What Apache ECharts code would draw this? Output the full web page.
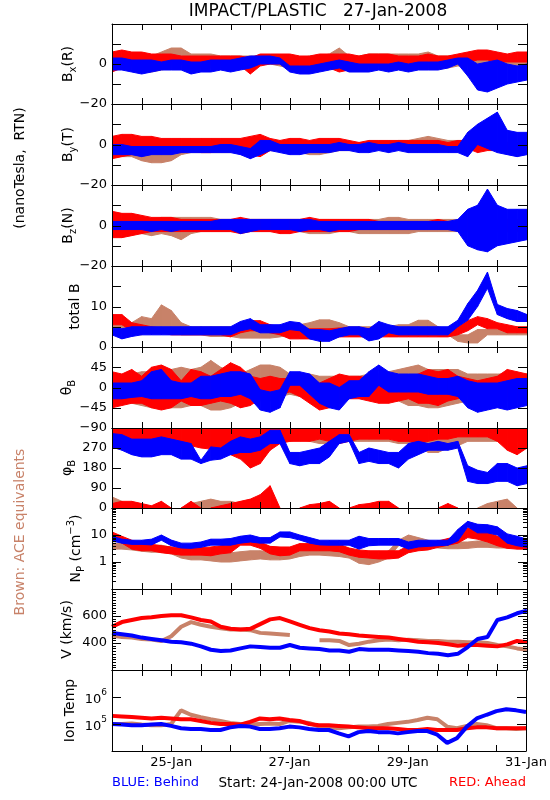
<!DOCTYPE html>
<html><head><meta charset="utf-8">
<script src="https://cdn.jsdelivr.net/npm/echarts@6/dist/echarts.min.js"></script>
<style>html,body{margin:0;padding:0;background:#fff}#c{width:550px;height:800px}</style>
</head><body><div id="c"></div>
<script>
// ---------- DATA (hours since 24-Jan-2008 00:00 UTC, 4 h bins) ----------
const hours = [0,4,8,12,16,20,24,28,32,36,40,44,48,52,56,60,64,68,72,76,80,84,88,92,96,100,104,108,112,116,120,124,128,132,136,140,144,148,152,156,160,164,168];
const xTickHours = [24,72,120,168];
const xTickLabels = ['25-Jan','27-Jan','29-Jan','31-Jan'];
const xTickAll = [12,24,36,48,60,72,84,96,108,120,132,144,156];

// Bx (R)  [nT]  low / high envelope of each trace
const redBxLo = [-4,-2,-1,0,-1,0, 0,0,-2,-1,0,0, -1,-1,-5,-1,0,0, -3,-3,-2,-1,-2,-4, -3,-2,-1,0,0,0, 0,0,1,0,0,1, 1,2,2,1,1,1,1];
const redBxHi = [6,7,6,6,5,5, 5,4,4,4,4,4, 4,4,3,5,5,5, 5,4,4,5,5,5, 5,4,5,5,5,4, 4,4,5,4,4,5, 6,7,7,6,5,6,6];
const blueBxLo = [-3,-3,-4,-5,-4,-3, -3,-3,-5,-4,-4,-3, -4,-3,-2,0,0,0, -4,-5,-5,-4,-3,-2, -4,-4,-4,-3,-4,-3, -4,-3,-3,-3,-2,0, -6,-13,-14,-12,-10,-9,-8];
const blueBxHi = [3,3,2,2,2,1, 2,2,1,1,2,2, 2,3,4,4,4,3, -1,-1,-1,0,1,2, 1,0,0,0,0,1, 0,1,1,1,2,3, 3,0,1,2,0,-1,0];
const brownBxLo = [-3,-2,-3,-4,-4,-3, -2,-2,-3,-2,-2,-2, -2,-2,-1,0,0,-1, -2,-2,-3,-2,-2,-2, -2,-2,-2,-1,-1,-1, -2,-2,-2,-2,-2,-1, -1,0,0,-1,-1,-1,-1];
const brownBxHi = [5,4,3,4,4,6, 8,8,5,5,5,4, 4,4,4,4,4,3, 3,3,4,4,5,8, 4,4,5,5,5,5, 5,5,6,4,4,4, 3,3,3,4,3,3,3];

// By (T)
const redByLo = [-7,-6,-5,-5,-4,-4, -4,-4,-3,-4,-4,-3, -3,-3,-5,-6,-3,-3, -3,-4,-3,-3,-3,-3, -2,-3,-2,-2,-2,-2, -1,-2,-2,-3,-3,-3, -2,-4,-3,-3,-4,-4,-3];
const redByHi = [4,5,5,4,4,3, 3,3,3,3,3,3, 3,3,4,5,3,2, 3,3,2,3,3,3, 2,1,2,2,2,2, 2,2,2,2,1,2, 2,2,1,1,1,1,1];
const blueByLo = [-5,-5,-5,-6,-5,-5, -5,-4,-4,-4,-4,-4, -4,-5,-7,-5,-3,-4, -5,-5,-4,-4,-4,-3, -3,-4,-4,-3,-4,-3, -4,-4,-4,-4,-4,-4, -6,0,-2,-4,-5,-6,-5];
const blueByHi = [0,0,-1,-1,-1,-1, -1,-1,-1,-1,-1,0, 0,-1,-2,2,2,0, 0,0,0,0,0,1, 0,0,1,0,0,1, 0,0,0,0,-1,-1, 6,10,13,16,7,6,6];
const brownByLo = [-5,-6,-6,-8,-9,-9, -8,-5,-4,-4,-4,-4, -4,-3,-3,-3,-3,-3, -3,-4,-5,-5,-4,-3, -3,-3,-3,-2,-2,-2, -3,-3,-3,-3,-3,-3, -2,-2,-2,-2,-2,-2,-2];
const brownByHi = [4,3,2,1,1,1, 1,2,2,2,2,2, 2,2,1,1,2,1, 1,1,1,1,1,2, 1,1,1,1,1,2, 2,3,4,3,2,2, 1,1,1,1,1,1,1];

// Bz (N)
const redBzLo = [-6,-6,-5,-4,-3,-3, -3,-3,-3,-3,-3,-3, -3,-4,-3,-3,-3,-4, -4,-3,-3,-3,-3,-3, -3,-2,-2,-2,-2,-2, -2,-2,-2,-2,-2,-2, -3,-3,-3,-3,-3,-3,-3];
const redBzHi = [7,6,6,5,4,4, 4,3,3,3,3,3, 3,4,3,3,3,3, 3,3,4,3,3,3, 3,3,3,2,2,2, 2,2,2,3,2,2, 3,3,3,3,3,3,3];
const blueBzLo = [-2,-2,-2,-2,-3,-2, -3,-2,-2,-2,-2,-2, -2,-4,-3,-2,-2,-2, -2,-3,-2,-2,-3,-2, -2,-2,-2,-2,-2,-2, -2,-2,-2,-2,-2,-3, -10,-12,-13,-10,-9,-8,-7];
const blueBzHi = [2,2,2,2,2,2, 2,2,2,2,2,3, 3,3,3,3,3,3, 3,3,3,2,2,2, 2,2,2,2,2,2, 2,2,2,2,2,3, 8,10,18,10,8,8,8];
const brownBzLo = [-4,-4,-4,-4,-5,-4, -5,-7,-4,-3,-3,-3, -3,-3,-3,-3,-3,-3, -3,-3,-4,-4,-4,-3, -3,-4,-4,-4,-4,-4, -4,-3,-3,-3,-3,-3, -2,-2,-2,-2,-2,-2,-2];
const brownBzHi = [3,3,3,3,3,4, 4,4,4,4,4,3, 3,3,3,3,3,3, 3,3,3,3,3,3, 3,3,3,3,4,4, 3,3,3,3,3,3, 2,2,2,2,2,2,2];

// total B
const redBLo = [5.5,5.5,4,4,4,3.5, 3,3,3,3,3,3, 2.5,3.5,4,4,3.5,3, 2,2,2,2,2,2.5, 2.5,2.5,2.5,2.5,2.5,2.5, 2.5,2.5,2.5,2.5,2.5,3, 4,5.5,4.5,4.5,3.5,3.5,3.5];
const redBHi = [8,8,6,5.5,5,4.7, 4.7,4.7,4.5,4.5,4.5,4.5, 4,6,6.5,6.5,5.5,5, 4.3,4.3,4.5,4.5,4.5,4.7, 4.7,4.5,4.5,4.3,4.3,4.5, 4.5,4.5,4.5,4.5,4.3,5, 6.5,7.5,7,6,5.5,5,5];
const blueBLo = [3,2,2.6,3,3,3, 3,3,3,3,3,3, 3,4,4.5,3.5,3.5,3.5, 4.3,4,2,1.4,1.4,2.5, 3,3,1.5,2,3.5,3, 3,3,3,3,3,5, 6.6,10,14.5,8,7,6.3,6.3];
const blueBHi = [4.7,4.5,5,5,5,5, 5,5,5,5,5,5, 5,6.3,7,5.5,5.5,5.5, 6.3,6,4.3,4.3,4,4.5, 5,5,4.5,6.3,5.5,5, 5,5,5,5,5,6.6, 10.7,14,18.5,10.5,9.5,9,8];
const brownBLo = [3.4,3.4,3.4,3,5,5, 5,3,3,3,2.6,2.6, 2.6,2.2,2.2,2.2,2.2,2.5, 3,3,3.5,4.3,4.3,3.5, 3,3,3,3,3,3, 3,4,5,3,3,1.4, 1,1,3,3,3,3,3];
const brownBHi = [6,6,6,7.5,7,10.4, 9,6,5,5,5,5, 5,4.7,4.7,4.7,4.7,5, 5,5.5,6,6.7,6.7,6, 5,5,5,5,5,5.5, 5.5,6.6,6.6,5,4.5,3, 3,4.3,4.3,4.3,4.3,4.3,4.3];

// theta_B [deg]
const redThLo = [-45,-40,-35,-35,-45,-50, -45,-30,-40,-40,-35,-30, -35,-45,-40,-25,-20,-15, -10,-20,-35,-50,-45,-35, -25,-25,-30,-35,-35,-30, -25,-35,-35,-40,-30,-25, -20,-25,-25,-25,-20,-30,-35];
const redThHi = [35,30,40,25,45,50, 40,15,40,35,25,40, 55,45,25,20,25,20, 20,30,15,10,20,30, 25,25,20,15,30,25, 20,30,40,35,40,25, 20,15,20,25,40,35,30];
const blueThLo = [-25,-25,-22,-20,-25,-25, -25,-25,-20,-25,-25,-20, -20,-15,-25,-50,-55,-45, 5,5,-15,-35,-45,-50, -25,-20,-20,5,-10,-10, -10,-10,-15,-15,-15,-20, -45,-55,-50,-45,-50,-45,-40];
const blueThHi = [10,10,10,15,35,40, 15,10,10,25,25,30, 35,35,30,-5,-10,-5, 35,35,30,10,10,0, 15,15,35,50,35,30, 30,30,25,20,20,25, 15,10,10,10,15,20,20];
const brownThLo = [-30,-30,-35,-40,-45,-45, -45,-45,-40,-40,-50,-50, -45,-35,-35,-30,-30,-20, -15,-20,-20,-20,-20,-20, -20,-20,-25,-30,-30,-30, -40,-40,-45,-45,-40,-35, -30,-30,-30,-30,-30,-30,-30];
const brownThHi = [20,25,30,35,35,40, 40,45,40,45,60,45, 35,30,40,50,50,45, 30,30,30,25,25,25, 25,25,30,30,35,40, 45,50,40,40,40,40, 30,30,30,30,30,30,30];

// phi_B [deg]
const redPhiLo = [270,265,260,270,280,270, 260,270,280,270,265,260, 240,220,180,200,260,290, 300,300,300,310,300,290, 300,310,310,310,310,300, 300,290,300,310,310,320, 320,320,320,300,260,240,270];
const redPhiHi = [360,360,360,360,360,360, 360,360,360,360,360,360, 360,360,360,360,360,360, 360,360,360,360,360,360, 360,360,360,360,360,360, 360,360,360,360,360,360, 360,360,360,360,360,360,360];
const redPhiNearZero = [20,30,30,20,10,30, 0,0,30,0,0,10, 20,30,40,60,100,0, 0,0,15,20,30,0, 0,15,20,30,30,0, 0,0,0,0,20,0, 0,0,0,0,0,0,0];
const bluePhiLo = [275,260,240,230,230,240, 240,220,220,200,215,220, 240,250,250,260,290,290, 200,190,200,200,230,290, 300,200,210,200,200,180, 220,240,260,260,260,270, 120,110,110,120,120,100,110];
const bluePhiHi = [335,330,310,310,310,320, 310,300,290,215,275,270, 300,320,310,320,350,350, 250,250,260,270,300,330, 330,250,270,260,250,250, 290,300,290,300,290,300, 190,170,160,200,200,180,190];
const brownPhiLo = [290,280,260,260,260,270, 280,290,300,300,300,300, 300,300,300,300,300,300, 300,310,300,290,290,300, 300,300,300,300,300,290, 290,280,250,250,270,280, 300,300,300,300,300,300,300];
const brownPhiHi = [360,360,360,360,360,360, 360,360,360,360,360,360, 360,360,360,360,360,360, 360,360,360,360,360,360, 360,360,360,360,360,360, 360,360,360,360,360,360, 360,360,360,360,360,360,360];
const brownPhiNearZero = [50,30,0,0,0,0, 0,0,20,30,40,30, 30,20,0,0,0,0, 0,0,0,0,0,0, 0,0,0,0,0,0, 0,0,0,0,0,0, 0,0,20,30,40,0,0];

// N_P [cm^-3]
const redNpLo = [8,5,3,2.6,2.6,2.2, 2,1.8,1.8,1.8,1.7,2, 2.2,4.2,4.2,3.2,2,1.7, 1.8,2.6,2.6,2.6,2.6,2.4, 1.8,1.5,1.4,1.3,1.3,1.4, 2.2,2.6,2.8,3.5,4.2,5, 8,7,5.5,4,3.2,3,3];
const redNpHi = [13,9,6.4,5,4.5,4, 3.6,3.4,3.4,3.4,3.6,4, 4.4,7.4,7.4,5.5,3.8,3.6, 3.6,4.8,4.8,4.8,4.8,4.5, 3.3,2.8,2.6,2.6,2.6,2.6, 4,4.6,5,6,7.4,9, 18,15,13,9,6.4,5.5,5.5];
const blueNpLo = [6,5,4.5,4.5,4.3,6.4, 4,3.3,3.2,3.5,4.2,4.2, 4.2,5,5.5,5,5,8.5, 8,6.5,5,4.3,4.2,4.2, 4.2,3,4,4.2,4.2,4.2, 3,3.6,3.8,4,4.2,6, 20,12,12,10,5,4,3.5];
const blueNpHi = [9,7,6.4,6.4,7,10, 6.5,5,5,5.5,7,7, 7.4,9,10,8,8,13, 13,10,8,6.4,6.4,6.4, 6.4,9,7.4,7.4,7.4,7.4, 5.5,6.4,6.4,6.4,6.4,16, 32,25,24,20,11,9,7];
const brownNpLo = [3,3,2.8,2.5,2.3,2.3, 2,1.4,1.2,1.2,1.1,1, 1,1.1,1.2,1.3,1.2,1.2, 1.3,1.6,1.8,1.8,1.7,1.6, 1.4,0.9,0.8,1,1.4,4, 5.5,4.5,3.6,3.3,3.1,3.1, 3.2,3.5,3.5,3.3,3.3,3.1,3];
const brownNpHi = [5,4.8,4.5,4.2,4.2,4.2, 3.5,2.6,2.3,2.3,2.3,2.2, 2.2,2.4,2.6,2.6,2.4,2.2, 2.4,3,3.4,3.1,3.1,2.8, 2.8,1.8,1.6,1.9,2.6,6.4, 10,8,6.4,5.5,5.5,5.5, 5.5,6,6,5.5,5.2,5,4.8];

// V [km/s]
const redV = [520,555,570,585,590,600, 605,605,590,570,560,520, 505,500,505,540,575,585, 560,535,510,495,485,470, 465,455,450,445,440,430, 420,410,405,400,390,380, 385,385,380,375,390,415,405];
const blueV = [475,465,455,440,430,420, 410,405,395,375,350,340, 345,360,375,370,365,365, 385,365,360,355,345,345, 335,355,350,350,350,345, 340,335,325,320,310,320, 370,430,445,570,590,620,640];
const brownV = [455,445,440,430,425,415, 450,520,555,535,520,510, 500,500,495,475,470,465, 460,null,null,420,420,415, 385,395,410,420,425,420, 425,420,415,415,410,410, 405,405,400,385,375,360,350];

// Ion Temp [K]
const redT = [2.0e5,1.9e5,1.8e5,1.7e5,1.6e5,1.7e5, 1.6e5,1.5e5,1.5e5,1.3e5,1.1e5,1.0e5, 1.0e5,0.95e5,1.2e5,1.6e5,1.5e5,1.6e5, 1.4e5,1.3e5,1.0e5,0.9e5,0.9e5,0.85e5, 0.8e5,0.75e5,0.7e5,0.7e5,0.7e5,0.65e5, 0.6e5,0.6e5,0.65e5,0.6e5,0.6e5,0.6e5, 0.7e5,0.75e5,0.75e5,0.7e5,0.7e5,0.7e5,0.7e5];
const blueT = [1.0e5,0.95e5,0.9e5,0.9e5,0.95e5,1.0e5, 0.85e5,0.7e5,0.65e5,0.65e5,0.6e5,0.6e5, 0.75e5,0.85e5,0.8e5,0.65e5,0.65e5,0.7e5, 0.8e5,0.75e5,0.65e5,0.6e5,0.6e5,0.45e5, 0.35e5,0.5e5,0.55e5,0.5e5,0.5e5,0.45e5, 0.5e5,0.55e5,0.55e5,0.4e5,0.2e5,0.3e5, 0.8e5,1.6e5,2.2e5,3.0e5,3.5e5,3.2e5,2.8e5];
const brownT = [1.0e5,1.0e5,1.05e5,0.95e5,0.9e5,0.9e5, 1.0e5,3.2e5,2.2e5,1.8e5,1.5e5,1.3e5, 1.1e5,1.0e5,0.95e5,1.0e5,1.05e5,1.0e5, 1.3e5,1.2e5,1.1e5,0.8e5,0.75e5,0.7e5, 0.75e5,0.8e5,0.8e5,0.85e5,1.0e5,1.1e5, 1.2e5,1.4e5,1.7e5,1.5e5,0.8e5,0.7e5, 0.85e5,1.0e5,0.9e5,0.7e5,0.7e5,0.65e5,0.7e5];

// y tick positions (major / minor) per panel
const bTicks = [-10,0,10];
const totBTicks = [5,10,15];
const thetaTicks = [-45,0,45];
const phiTicks = [90,180,270];
const npTicks = [1,10];
const npMinorTicks = [0.2,0.3,0.4,0.5,0.6,0.7,0.8,0.9, 2,3,4,5,6,7,8,9, 20,30,40,50,60,70,80,90];
const vTicks = [400,600];
const vMinorTicks = [220,240,260,280,300,320,340,360,380,420,440,460,480,500,520,540,560,580,620,640,660,680,700,720,740,760,780];
const tTicks = [1e5,1e6];

// ---------- STYLE / LAYOUT ----------
const RED = '#FF0000', BLUE = '#0000FF', BROWN = '#C88269';
const FONT = 'DejaVu Sans';
const panelTops = [24,104,185,266,347,428,508,589,670];
const plotBottom = 751;
const L = 112, R = 23;

const near = (a, b) => Math.abs(a - b) < 1e-6 * Math.max(1, Math.abs(b));
const minus = v => (v < 0 ? '\u2212' + Math.abs(v) : String(v));
const pick = list => v => (list.some(x => near(v, x)) ? minus(v) : '');

const panels = [
  {y:{type:'value', min:-20, max:20, interval:10, formatter: pick([-20,0])}, ticks:bTicks,
   title:'{m|B}{s|x}{m|(R)}', tx:68,
   bands:[[brownBxLo,brownBxHi,BROWN],[redBxLo,redBxHi,RED],[blueBxLo,blueBxHi,BLUE]]},
  {y:{type:'value', min:-20, max:20, interval:10, formatter: pick([-20,0])}, ticks:bTicks,
   title:'{m|B}{s|y}{m|(T)}', tx:68,
   bands:[[brownByLo,brownByHi,BROWN],[redByLo,redByHi,RED],[blueByLo,blueByHi,BLUE]]},
  {y:{type:'value', min:-20, max:20, interval:10, formatter: pick([-20,0])}, ticks:bTicks,
   title:'{m|B}{s|z}{m|(N)}', tx:68,
   bands:[[brownBzLo,brownBzHi,BROWN],[redBzLo,redBzHi,RED],[blueBzLo,blueBzHi,BLUE]]},
  {y:{type:'value', min:0, max:20, interval:5, formatter: pick([0,10])}, ticks:totBTicks,
   title:'{m|total B}', tx:75,
   bands:[[brownBLo,brownBHi,BROWN],[redBLo,redBHi,RED],[blueBLo,blueBHi,BLUE]]},
  {y:{type:'value', min:-90, max:90, interval:45, formatter: pick([-90,-45,0,45])}, ticks:thetaTicks,
   title:'{m|\u03b8}{s|B}', tx:67,
   bands:[[brownThLo,brownThHi,BROWN],[redThLo,redThHi,RED],[blueThLo,blueThHi,BLUE]]},
  {y:{type:'value', min:0, max:360, interval:90, formatter: pick([0,90,180,270])}, ticks:phiTicks,
   title:'{m|\u03c6}{s|B}', tx:67,
   bands:[[brownPhiLo,brownPhiHi,BROWN],[0,brownPhiNearZero,BROWN],[redPhiLo,redPhiHi,RED],[0,redPhiNearZero,RED],[bluePhiLo,bluePhiHi,BLUE]]},
  {y:{type:'log', min:0.1, max:100, formatter: pick([1,10])}, ticks:npTicks, minor:npMinorTicks,
   title:'{m|N}{s|P}{m| (cm}{u|\u22123}{m|)}', tx:76,
   bands:[[brownNpLo,brownNpHi,BROWN],[redNpLo,redNpHi,RED],[blueNpLo,blueNpHi,BLUE]]},
  {y:{type:'value', min:200, max:800, interval:200, formatter: pick([400,600])}, ticks:vTicks, minor:vMinorTicks,
   title:'{m|V (km/s)}', tx:67,
   lines:[[brownV,BROWN],[redV,RED],[blueV,BLUE]]},
  {y:{type:'log', min:1e4, max:1e7, rich:true,
      formatter: v => near(v,1e6) ? '{b|10}{s|6}' : (near(v,1e5) ? '{b|10}{s|5}' : '')}, ticks:tTicks,
   title:'{m|Ion Temp}', tx:70,
   lines:[[brownT,BROWN],[redT,RED],[blueT,BLUE]]}
];

const titleRich = {
  m:{fontFamily:FONT, fontSize:14, lineHeight:20, verticalAlign:'middle', color:'#000'},
  s:{fontFamily:FONT, fontSize:10, lineHeight:10, verticalAlign:'bottom', color:'#000'},
  u:{fontFamily:FONT, fontSize:10, lineHeight:10, verticalAlign:'top', color:'#000'}
};

const grids = [], xAxes = [], yAxes = [], series = [], graphics = [];
const black = {color:'#000', width:1};

panels.forEach((p, k) => {
  const top = panelTops[k];
  const bottom = k < panelTops.length - 1 ? panelTops[k+1] : plotBottom;
  grids.push({left:L, right:R, top:top, height:bottom-top, containLabel:false});
  const last = k === panels.length - 1;
  const xb = {gridIndex:k, type:'value', min:0, max:168, interval:12, z:20,
    axisLine:{show:true, onZero:false, lineStyle:black},
    axisTick:{show:false},
    splitLine:{show:false}};
  xAxes.push(Object.assign({}, xb, {position:'bottom',
    axisLabel: last ? {show:true, margin:5, color:'#000', fontFamily:FONT, fontSize:13,
      showMaxLabel:true, showMinLabel:true, hideOverlap:false,
      formatter: v => { const j = xTickHours.indexOf(v); return j >= 0 ? xTickLabels[j] : ''; }} : {show:false}}));
  xAxes.push(Object.assign({}, xb, {position:'top', axisLabel:{show:false}}));

  const yb = {gridIndex:k, type:p.y.type, min:p.y.min, max:p.y.max, z:20,
    axisLine:{show:true, onZero:false, lineStyle:black},
    axisTick:{show:false},
    splitLine:{show:false}, minorSplitLine:{show:false}};
  if (p.y.type === 'log') yb.logBase = 10; else yb.interval = p.y.interval;
  const lab = {show:true, margin:5, color:'#000', fontFamily:FONT, fontSize:13,
    showMaxLabel:true, showMinLabel:true, hideOverlap:false, formatter:p.y.formatter};
  if (p.y.rich) lab.rich = {
    b:{fontFamily:FONT, fontSize:13, lineHeight:18, verticalAlign:'bottom', color:'#000'},
    s:{fontFamily:FONT, fontSize:9, lineHeight:10, verticalAlign:'top', color:'#000'}};
  yAxes.push(Object.assign({}, yb, {position:'left', axisLabel:lab}));
  yAxes.push(Object.assign({}, yb, {position:'right', axisLabel:{show:false}}));

  const xi = 2*k, yi = 2*k;
  (p.bands || []).forEach((b, bi) => {
    const [lo, hi, color] = b;
    const get = (a, i) => Array.isArray(a) ? a[i] : a;
    const data = [];
    for (let i = 0; i < hours.length - 1; i++) {
      const l0 = get(lo,i), h0 = get(hi,i), l1 = get(lo,i+1), h1 = get(hi,i+1);
      if (l0 == null || h0 == null || l1 == null || h1 == null) continue;
      if (h0 - l0 <= 0 && h1 - l1 <= 0) continue;
      data.push([hours[i], l0, h0, hours[i+1], l1, h1]);
    }
    series.push({type:'custom', xAxisIndex:xi, yAxisIndex:yi, data, clip:true, silent:true,
      animation:false, z:2+bi,
      dimensions:['t0','l0','h0','t1','l1','h1'],
      encode:{x:['t0','t1'], y:['l0','h0','l1','h1']},
      renderItem: (params, api) => {
        const a = api.coord([api.value(0), api.value(1)]);
        const b2 = api.coord([api.value(0), api.value(2)]);
        const c = api.coord([api.value(3), api.value(5)]);
        const d = api.coord([api.value(3), api.value(4)]);
        return {type:'polygon', shape:{points:[a,b2,c,d]},
          style:{fill:color, stroke:color, lineWidth:1}};
      }});
  });
  (p.lines || []).forEach((ln, li) => {
    const [vals, color] = ln;
    series.push({type:'line', xAxisIndex:xi, yAxisIndex:yi, showSymbol:false, silent:true,
      animation:false, connectNulls:false, z:2+li,
      data: hours.map((h,i) => [h, vals[i]]),
      lineStyle:{color, width:4}, itemStyle:{color}});
  });

  // x ticks (every 12 h, top and bottom, pointing inward)
  series.push({type:'custom', xAxisIndex:xi, yAxisIndex:yi, silent:true, animation:false, z:30, clip:false,
    data: xTickAll.map(h => [h, p.y.min, p.y.max]), dimensions:['t','a','b'], encode:{x:'t', y:['a','b']},
    renderItem: (params, api) => {
      const pb = api.coord([api.value(0), api.value(1)]);
      const pt = api.coord([api.value(0), api.value(2)]);
      const x = Math.round(pb[0]);
      return {type:'group', children:[
        {type:'rect', shape:{x:x, y:pb[1]-6, width:1, height:6}, style:{fill:'#000'}},
        {type:'rect', shape:{x:x, y:pt[1], width:1, height:6}, style:{fill:'#000'}}]};
    }});
  // y ticks (left and right, pointing inward)
  const yt = p.ticks.map(v => [0, 168, v, 9]).concat((p.minor || []).map(v => [0, 168, v, 4]));
  series.push({type:'custom', xAxisIndex:xi, yAxisIndex:yi, silent:true, animation:false, z:30, clip:false,
    data: yt, dimensions:['x0','x1','v','len'], encode:{x:['x0','x1'], y:'v'},
    renderItem: (params, api) => {
      const pl = api.coord([api.value(0), api.value(2)]);
      const pr = api.coord([api.value(1), api.value(2)]);
      const len = api.value(3);
      const y = Math.round(pl[1]);
      return {type:'group', children:[
        {type:'rect', shape:{x:pl[0], y:y, width:len, height:1}, style:{fill:'#000'}},
        {type:'rect', shape:{x:pr[0]-len, y:y, width:len, height:1}, style:{fill:'#000'}}]};
    }});

  graphics.push({type:'text', x:p.tx, y:(top+bottom)/2, rotation:Math.PI/2,
    style:{text:p.title, rich:titleRich, align:'center', verticalAlign:'middle',
      fontFamily:FONT, fontSize:14, fill:'#000'}});
});

graphics.push(
  {type:'text', x:318, y:12, style:{text:'IMPACT/PLASTIC   27-Jan-2008', fontFamily:FONT, fontSize:17,
    fill:'#000', align:'center', verticalAlign:'middle'}},
  {type:'text', x:20, y:168, rotation:Math.PI/2, style:{text:'(nanoTesla,  RTN)', fontFamily:FONT, fontSize:14,
    fill:'#000', align:'center', verticalAlign:'middle'}},
  {type:'text', x:20, y:532, rotation:Math.PI/2, style:{text:'Brown: ACE equivalents', fontFamily:FONT, fontSize:14,
    fill:BROWN, align:'center', verticalAlign:'middle'}},
  {type:'text', x:112, y:783, style:{text:'BLUE: Behind', fontFamily:FONT, fontSize:13,
    fill:BLUE, align:'left', verticalAlign:'middle'}},
  {type:'text', x:318, y:783, style:{text:'Start: 24-Jan-2008 00:00 UTC', fontFamily:FONT, fontSize:13.5,
    fill:'#000', align:'center', verticalAlign:'middle'}},
  {type:'text', x:526, y:783, style:{text:'RED: Ahead', fontFamily:FONT, fontSize:13,
    fill:RED, align:'right', verticalAlign:'middle'}}
);

const chart = echarts.init(document.getElementById('c'), null, {renderer:'canvas'});
chart.setOption({animation:false, backgroundColor:'#fff', grid:grids, xAxis:xAxes, yAxis:yAxes,
  series, graphic:graphics});
</script></body></html>
